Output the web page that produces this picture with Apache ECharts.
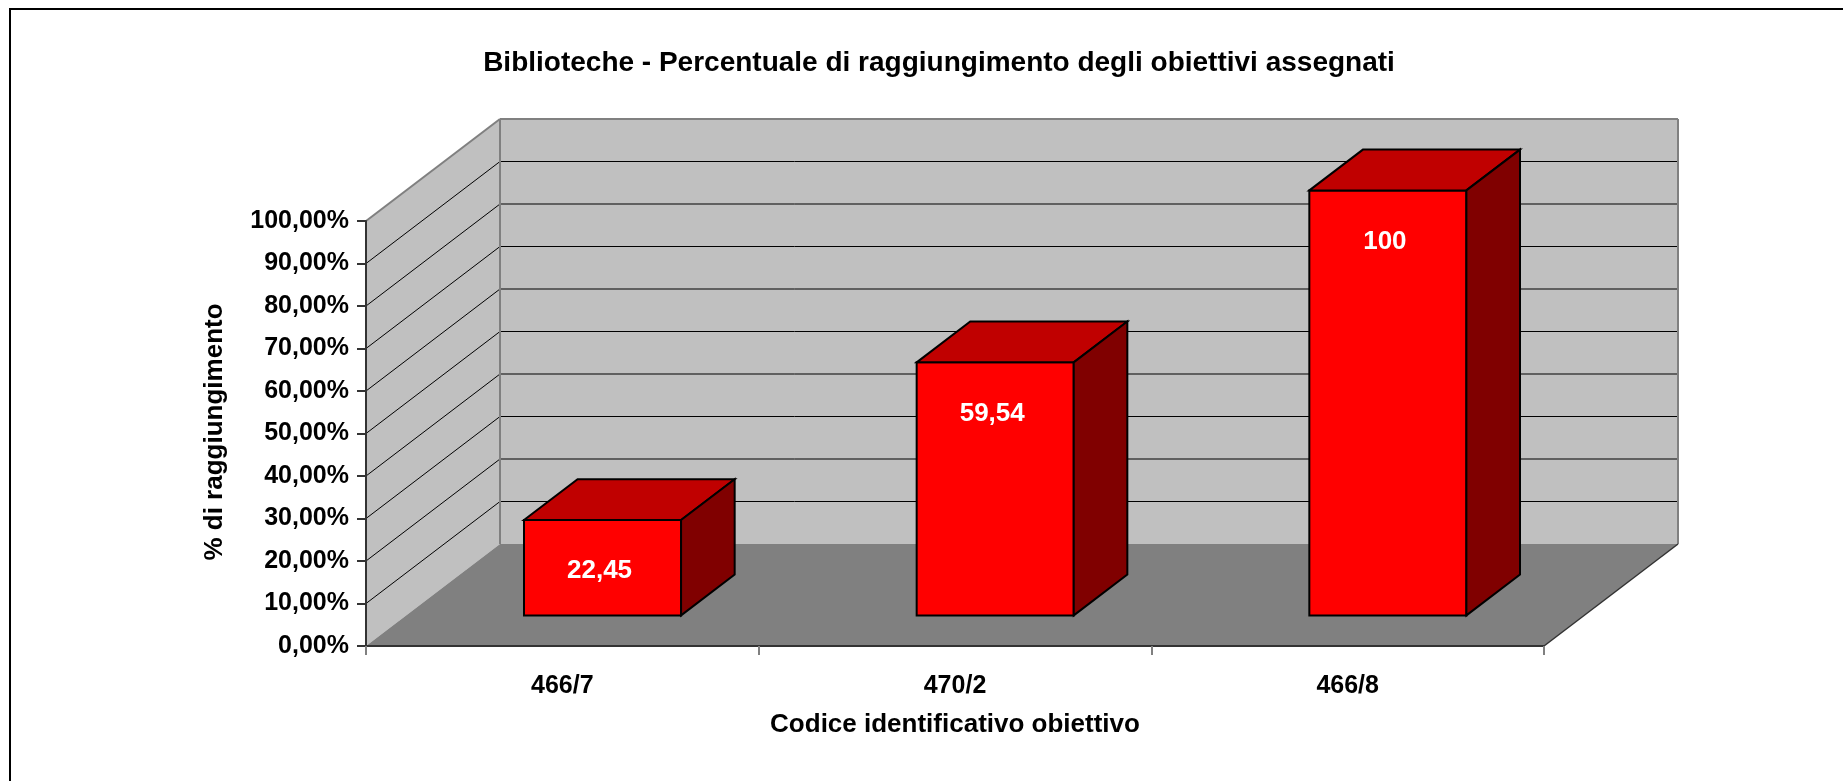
<!DOCTYPE html>
<html>
<head>
<meta charset="utf-8">
<script src="https://cdn.jsdelivr.net/npm/echarts@6/dist/echarts.min.js"></script>
<style>
  html, body { margin: 0; padding: 0; background: #fff; }
  #chart { width: 1843px; height: 781px; }
</style>
</head>
<body>
<div id="chart"></div>
<script>
// Objectives and their achievement percentage
const categories = ['466/7', '470/2', '466/8'];
const values = [22.45, 59.54, 100];

// Value axis range and tick step (percent)
const yMin = 0;
const yMax = 100;
const yStep = 10;

const FONT = '"Liberation Sans", Arial, sans-serif';

// Oblique projection used for the 3D look (pixels per full depth)
const DX = 134;
const DY = -102;
// Bars sit between these depth fractions
const BAR_FRONT = 0.30;
const BAR_DEPTH = 0.40;
const BAR_WIDTH_RATIO = 0.40;

const fmtPercent = v => v.toFixed(2).replace('.', ',') + '%';
const fmtValue = v => String(v).replace('.', ',');

function renderWalls(params, api) {
  const cs = params.coordSys;
  const L = cs.x, R = cs.x + cs.width;
  const B = api.coord([0, yMin])[1];
  const T = api.coord([0, yMax])[1];
  const children = [];
  const poly = (pts, fill) => children.push({ type: 'polygon', shape: { points: pts }, style: { fill: fill, stroke: null } });
  const line = (x1, y1, x2, y2, stroke, w) => children.push({
    type: 'line', shape: { x1, y1, x2, y2 }, style: { stroke, lineWidth: w }
  });

  // side wall, back wall, floor
  poly([[L, B], [L, T], [L + DX, T + DY], [L + DX, B + DY]], '#c0c0c0');
  poly([[L + DX, T + DY], [R + DX, T + DY], [R + DX, B + DY], [L + DX, B + DY]], '#c0c0c0');
  poly([[L, B], [R, B], [R + DX, B + DY], [L + DX, B + DY]], '#808080');

  // gridlines on the side and back walls
  for (let v = yMin + yStep; v < yMax; v += yStep) {
    const y = api.coord([0, v])[1];
    line(L, y, L + DX, y + DY, '#000', 1);
    line(L + DX, y + DY, R + DX, y + DY, '#000', 1);
  }

  // wall outlines
  line(L, T, L + DX, T + DY, '#808080', 2);
  line(L + DX, T + DY, R + DX, T + DY, '#808080', 2);
  line(L + DX, T + DY, L + DX, B + DY, '#808080', 2);
  line(R + DX, T + DY, R + DX, B + DY, '#808080', 2);
  line(R, B, R + DX, B + DY, '#333', 1.5);

  return { type: 'group', children };
}

function renderBar(params, api) {
  const ci = api.value(0);
  const v = api.value(1);
  const base = api.coord([ci, yMin]);
  const top = api.coord([ci, v]);
  const band = api.size([1, 0])[0];
  const w = band * BAR_WIDTH_RATIO;

  const x0 = base[0] - w / 2 + BAR_FRONT * DX;
  const x1 = x0 + w;
  const yb = base[1] + BAR_FRONT * DY;
  const yt = top[1] + BAR_FRONT * DY;
  const dx = BAR_DEPTH * DX, dy = BAR_DEPTH * DY;

  const edge = { stroke: '#000', lineWidth: 2, lineJoin: 'miter' };
  return {
    type: 'group',
    children: [
      { type: 'polygon', shape: { points: [[x0, yb], [x0, yt], [x1, yt], [x1, yb]] },
        style: Object.assign({ fill: '#ff0000' }, edge) },
      { type: 'polygon', shape: { points: [[x0, yt], [x0 + dx, yt + dy], [x1 + dx, yt + dy], [x1, yt]] },
        style: Object.assign({ fill: '#c00000' }, edge) },
      { type: 'polygon', shape: { points: [[x1, yt], [x1 + dx, yt + dy], [x1 + dx, yb + dy], [x1, yb]] },
        style: Object.assign({ fill: '#800000' }, edge) },
      { type: 'text',
        style: {
          text: fmtValue(v), x: (x0 + x1) / 2 - 3, y: yt + 51,
          fill: '#fff', font: 'bold 26px ' + FONT, align: 'center', verticalAlign: 'middle'
        } }
    ]
  };
}

const chart = echarts.init(document.getElementById('chart'), null, { renderer: 'canvas' });

chart.setOption({
  animation: false,
  backgroundColor: '#fff',
  title: {
    text: 'Biblioteche - Percentuale di raggiungimento degli obiettivi assegnati',
    left: 934, top: 44, textAlign: 'center',
    textStyle: { fontFamily: FONT, fontSize: 28, fontWeight: 'bold', color: '#000' }
  },
  grid: { left: 366, top: 221, right: 299, bottom: 135, containLabel: false },
  xAxis: {
    type: 'category',
    data: categories,
    boundaryGap: true,
    z: 5,
    axisLine: { show: true, lineStyle: { color: '#333', width: 2 } },
    axisTick: { show: true, length: 9, lineStyle: { color: '#808080', width: 2 } },
    axisLabel: { margin: 28, fontFamily: FONT, fontSize: 25, fontWeight: 'bold', color: '#000' },
    splitLine: { show: false },
    name: 'Codice identificativo obiettivo',
    nameLocation: 'middle',
    nameGap: 66,
    nameTextStyle: { fontFamily: FONT, fontSize: 26, fontWeight: 'bold', color: '#000' }
  },
  yAxis: {
    type: 'value',
    min: yMin, max: yMax, interval: yStep,
    z: 5,
    axisLine: { show: true, lineStyle: { color: '#333', width: 2 } },
    axisTick: { show: true, length: 9, lineStyle: { color: '#333', width: 2 } },
    axisLabel: { margin: 17, formatter: fmtPercent, fontFamily: FONT, fontSize: 25, fontWeight: 'bold', color: '#000' },
    splitLine: { show: false }
  },
  graphic: [
    { type: 'rect', z: 100, shape: { x: 10, y: 9, width: 1900, height: 900 },
      style: { fill: null, stroke: '#000', lineWidth: 2 } },
    { type: 'text', z: 100, x: 215, y: 432, rotation: Math.PI / 2,
      style: { text: '% di raggiungimento', fill: '#000', font: 'bold 26px ' + FONT,
               align: 'center', verticalAlign: 'middle' } }
  ],
  series: [
    { type: 'custom', z: 1, silent: true, renderItem: renderWalls, data: [[0, 0]] },
    { type: 'custom', z: 3, silent: true, renderItem: renderBar,
      data: values.map((v, i) => [i, v]) }
  ]
});
</script>
</body>
</html>
